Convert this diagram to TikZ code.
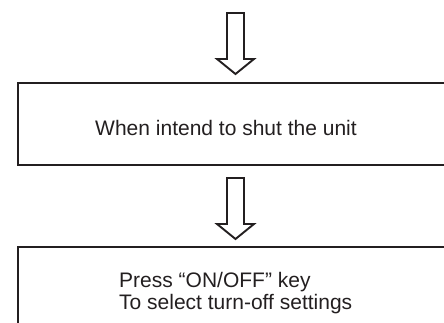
\documentclass[tikz,border=0pt]{standalone}
\usepackage{fontspec}
\setmainfont{Liberation Sans}
\definecolor{ink}{HTML}{231F20}
\tikzset{
  stepframe/.style={draw=ink, line width=2.6pt},
  hollowarrow/.style={draw=ink, line width=1.9pt, line join=miter, fill=white},
  steptext/.style={text=ink, font=\fontsize{21}{22}\selectfont, inner sep=0pt},
}
\begin{document}
\begin{tikzpicture}[x=1pt, y=-1pt]
    \clip (0,0) rectangle (444,323);
    % Step frames (run past the right and bottom edges)
    \draw[stepframe] (18,83) rectangle (470,165);
    \draw[stepframe] (18,247) rectangle (470,360);

    % Step texts
    \node[steptext, anchor=base] (intend) at (226,136) {When intend to shut the unit};
    \node[steptext, anchor=base west] (press) at (119,287) {Press “ON/OFF” key};
    \node[steptext, anchor=base west] (select) at (119,309) {To select turn-off settings};

    % Hollow down arrows
    \foreach \t in {13,178} {
        \draw[hollowarrow, shift={(0,\t)}] (227,0) -- (244,0) -- (244,46) -- (254,46)
            -- (235.5,61) -- (217,46) -- (227,46) -- cycle;
    }
\end{tikzpicture}
\end{document}
